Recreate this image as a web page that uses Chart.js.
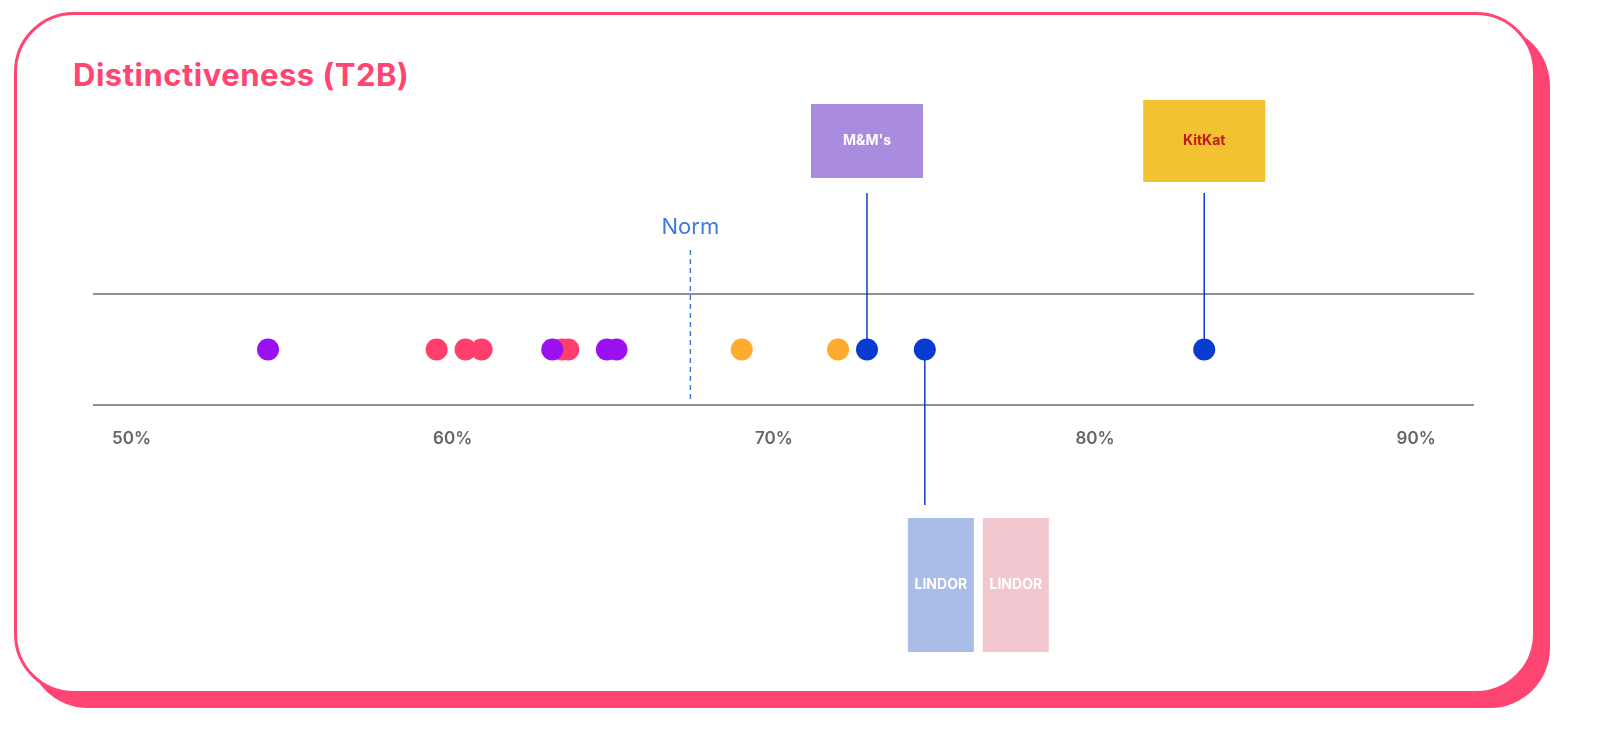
<!DOCTYPE html>
<html><head><meta charset="utf-8">
<script src="https://cdn.jsdelivr.net/npm/chart.js@4"></script>
<style>
html,body{margin:0;padding:0;background:#fff;width:1614px;height:741px;overflow:hidden;font-family:Inter,"Noto Sans",sans-serif}
#shadow{position:absolute;left:28px;top:26px;width:1522px;height:682px;background:#ff4572;border-radius:60px}
#card{position:absolute;left:14px;top:12px;width:1516px;height:676px;background:#fff;border:3px solid #ff4572;border-radius:60px}
#title{position:absolute;left:73px;top:56px;font-size:31px;font-weight:700;color:#ff4572;letter-spacing:0.5px}
canvas{position:absolute;left:0;top:0}
</style></head><body>
<div id="shadow"></div><div id="card"></div>
<div id="title">Distinctiveness (T2B)</div>
<canvas id="c" width="1614" height="741"></canvas>
<script>
const tickValues=[50,60,70,80,90];
const tickLabels=["50%","60%","70%","80%","90%"];
const normValue=67.4;
const purpleValues=[54.25,63.1,64.8,65.1];
const pinkValues=[59.5,60.4,60.9,63.4,63.6];
const orangeValues=[69.0,72.0];
const blueValues=[72.9,74.7,83.4];
const blueLabels=["M&M's Easter","Lindor","KitKat Lemon Crisp"];
const pts=v=>v.map(x=>({x:x,y:0.5}));
const ds=(v,c)=>({data:pts(v),backgroundColor:c,borderWidth:0,pointRadius:11,pointHoverRadius:11});
const deco={id:'deco',beforeDatasetsDraw(ch){
 const c=ch.ctx,xs=ch.scales.x,a=ch.chartArea;
 c.save();
 c.strokeStyle='#6b6b6b';c.lineWidth=1.5;
 [a.top,a.bottom].forEach(y=>{c.beginPath();c.moveTo(a.left,y);c.lineTo(a.right,y);c.stroke();});
 c.fillStyle='#666';c.font='600 17px Inter';c.textAlign='center';c.textBaseline='middle';
 tickValues.forEach((t,i)=>c.fillText(tickLabels[i],xs.getPixelForValue(t),a.bottom+34));
 const nx=xs.getPixelForValue(normValue);
 c.strokeStyle='#3d7be0';c.setLineDash([5,4]);c.beginPath();c.moveTo(nx,250);c.lineTo(nx,a.bottom-2);c.stroke();c.setLineDash([]);
 c.fillStyle='#3d7be0';c.font='22px Inter';c.fillText('Norm',nx,227);
 const ends=[193,505,193];
 c.strokeStyle='#0a3bd1';c.lineWidth=1.5;
 blueValues.forEach((v,i)=>{const x=xs.getPixelForValue(v);const y=ch.scales.y.getPixelForValue(0.5);c.beginPath();c.moveTo(x,y);c.lineTo(x,ends[i]);c.stroke();});
 // product placeholders
 const box=(x,y,w,h,col,txt,tc)=>{c.fillStyle=col;c.fillRect(x,y,w,h);c.fillStyle=tc;c.font='bold 14px Inter';c.fillText(txt,x+w/2,y+h/2);};
 let x0=xs.getPixelForValue(blueValues[0]);box(x0-56,104,112,74,'#a98be0','M&M\'s','#fff');
 let x2=xs.getPixelForValue(blueValues[2]);box(x2-61,100,122,82,'#f2c230','KitKat','#c4161c');
 let x1=xs.getPixelForValue(blueValues[1]);box(x1-17,518,66,134,'#a9bde8','LINDOR','#fff');box(x1+58,518,66,134,'#f2c6cf','LINDOR','#fff');
 c.restore();}};
new Chart(document.getElementById('c'),{type:'scatter',
 data:{datasets:[ds(purpleValues,'#9b10f0'),ds(pinkValues,'#ff3e6c'),ds(orangeValues,'#ffab2e'),ds(blueValues,'#0a3bd1')]},
 options:{responsive:false,animation:false,events:[],
  layout:{padding:{left:93,right:140,top:294,bottom:336}},
  plugins:{legend:{display:false},tooltip:{enabled:false}},
  scales:{x:{type:'linear',min:48.8,max:91.8,display:false},y:{min:0,max:1,display:false}}},
 plugins:[deco]});
</script></body></html>
